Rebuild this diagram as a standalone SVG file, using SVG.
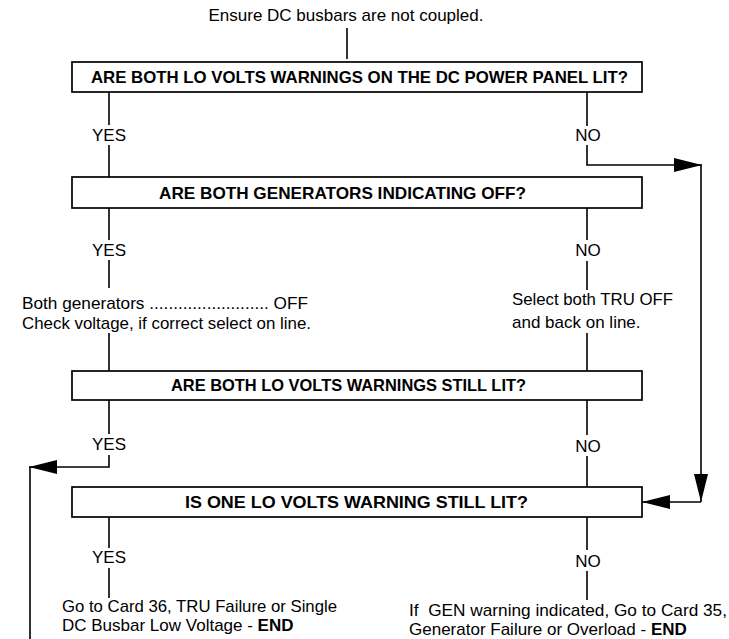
<svg xmlns="http://www.w3.org/2000/svg" width="729" height="639" viewBox="0 0 729 639">
<style>
  .t { font-family: "Liberation Sans", Arial, sans-serif; font-size: 17px; fill: #000; }
  .b { font-family: "Liberation Sans", Arial, sans-serif; font-size: 16.5px; font-weight: bold; fill: #000; }
  .c { text-anchor: middle; }
  .box { fill: #fff; stroke: #000; stroke-width: 1.7; }
  .ln { fill: none; stroke: #000; stroke-width: 1.6; }
  .arr { fill: none; stroke: #000; stroke-width: 1.6; marker-end: url(#ah); }
</style>
<defs>
  <marker id="ah" viewBox="0 0 28 14" refX="28" refY="7" markerWidth="28" markerHeight="14" markerUnits="userSpaceOnUse" orient="auto">
    <path d="M0 0 L28 7 L0 14 Z" fill="#000"/>
  </marker>
</defs>
<rect width="729" height="639" fill="#fff"/>

<g id="connectors">
  <path class="ln" d="M347 28 V59"/>
  <path class="ln" d="M109 92 V125 M109 145 V177"/>
  <path class="ln" d="M587 92 V126"/>
  <path class="arr" d="M587 145 V165 H702"/>
  <path class="arr" d="M701 165 V502"/>
  <path class="arr" d="M701 502 H642"/>
  <path class="ln" d="M109 208 V240 M109 260 V288 M109 333 V371"/>
  <path class="ln" d="M587 208 V240 M587 261 V290 M587 333 V371"/>
  <path class="ln" d="M109 400 V434"/>
  <path class="arr" d="M109 455 V467 H29"/>
  <path class="ln" d="M30 467 V639"/>
  <path class="ln" d="M587 400 V435 M587 456 V487"/>
  <path class="ln" d="M109 517 V548 M109 568 V598"/>
  <path class="ln" d="M587 517 V550 M587 571 V600"/>
</g>

<g id="start">
  <text class="t c" x="346" y="21">Ensure DC busbars are not coupled.</text>
</g>

<g id="q1">
  <rect class="box" x="72" y="62" width="570" height="30"/>
  <text class="b" x="91" y="83" textLength="537" lengthAdjust="spacingAndGlyphs">ARE BOTH LO VOLTS WARNINGS ON THE DC POWER PANEL LIT?</text>
</g>
<g id="q1-yes"><text class="t c" x="109" y="141">YES</text></g>
<g id="q1-no"><text class="t c" x="588" y="141">NO</text></g>

<g id="q2">
  <rect class="box" x="72" y="177" width="570" height="31"/>
  <text class="b" x="159" y="199" textLength="367" lengthAdjust="spacingAndGlyphs">ARE BOTH GENERATORS INDICATING OFF?</text>
</g>
<g id="q2-yes"><text class="t c" x="109" y="256">YES</text></g>
<g id="q2-no"><text class="t c" x="588" y="256">NO</text></g>

<g id="action-gen">
  <text class="t" x="22" y="309" textLength="286" lengthAdjust="spacingAndGlyphs">Both generators ......................... OFF</text>
  <text class="t" x="22" y="329" textLength="289" lengthAdjust="spacingAndGlyphs">Check voltage, if correct select on line.</text>
</g>
<g id="action-tru">
  <text class="t" x="512" y="305" textLength="161" lengthAdjust="spacingAndGlyphs">Select both TRU OFF</text>
  <text class="t" x="512" y="328">and back on line.</text>
</g>

<g id="q3">
  <rect class="box" x="72" y="371" width="570" height="29"/>
  <text class="b" x="171" y="391" textLength="355" lengthAdjust="spacingAndGlyphs">ARE BOTH LO VOLTS WARNINGS STILL LIT?</text>
</g>
<g id="q3-yes"><text class="t c" x="109" y="450">YES</text></g>
<g id="q3-no"><text class="t c" x="588" y="452">NO</text></g>

<g id="q4">
  <rect class="box" x="72" y="487" width="570" height="30"/>
  <text class="b" x="185" y="508" textLength="343" lengthAdjust="spacingAndGlyphs">IS ONE LO VOLTS WARNING STILL LIT?</text>
</g>
<g id="q4-yes"><text class="t c" x="109" y="563">YES</text></g>
<g id="q4-no"><text class="t c" x="588" y="567">NO</text></g>

<g id="end-tru">
  <text class="t" x="62" y="612" textLength="275" lengthAdjust="spacingAndGlyphs">Go to Card 36, TRU Failure or Single</text>
  <text class="t" x="62" y="631">DC Busbar Low Voltage - <tspan font-weight="bold">END</tspan></text>
</g>
<g id="end-gen">
  <text class="t" x="409" y="616" style="white-space:pre" textLength="318" lengthAdjust="spacingAndGlyphs">If  GEN warning indicated, Go to Card 35,</text>
  <text class="t" x="409" y="635">Generator Failure or Overload - <tspan font-weight="bold">END</tspan></text>
</g>
</svg>
